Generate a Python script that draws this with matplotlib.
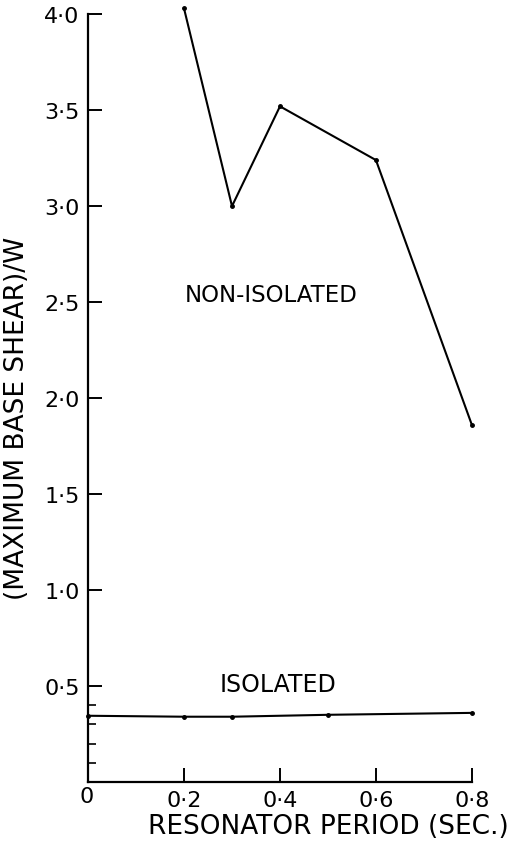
import numpy as np
import matplotlib.pyplot as plt

period_non = [0.2, 0.3, 0.4, 0.6, 0.8]
shear_non = [4.03, 3.0, 3.52, 3.24, 1.86]

period_iso = [0.0, 0.2, 0.3, 0.5, 0.8]
shear_iso = [0.345, 0.34, 0.34, 0.35, 0.36]

xticks = [0.2, 0.4, 0.6, 0.8]
xticklabels = ['0·2', '0·4', '0·6', '0·8']
yticks = [0.5, 1.0, 1.5, 2.0, 2.5, 3.0, 3.5, 4.0]
yticklabels = ['0·5', '1·0', '1·5', '2·0', '2·5', '3·0', '3·5', '4·0']
yminor = [0.1, 0.2, 0.3, 0.4]

plt.rcParams['font.family'] = 'DejaVu Sans'

fig = plt.figure(figsize=(5.18, 8.45), dpi=100)
ax = fig.add_axes([0.170, 0.0734, 0.741, 0.9086])

ax.plot(period_non, shear_non, color='black', lw=1.5, marker='o', ms=2.5, clip_on=False)
ax.plot(period_iso, shear_iso, color='black', lw=1.5, marker='o', ms=2.5, clip_on=False)

ax.set_xlim(0, 0.8)
ax.set_ylim(0, 4.0)
for s in ['top', 'right']:
    ax.spines[s].set_visible(False)
for s in ['left', 'bottom']:
    ax.spines[s].set_linewidth(1.6)

ax.set_xticks(xticks)
ax.set_xticklabels(xticklabels)
ax.set_yticks(yticks)
ax.set_yticklabels(yticklabels)
ax.set_yticks(yminor, minor=True)
ax.tick_params(axis='both', which='major', direction='in', length=10, width=1.4,
               labelsize=16, pad=6)
ax.tick_params(axis='y', which='minor', direction='in', length=6, width=1.2)

ax.text(-0.003, -0.02, '0', ha='center', va='top', fontsize=16)

ax.text(0.381, 2.54, 'NON-ISOLATED', ha='center', va='center', fontsize=16.5)
ax.text(0.396, 0.51, 'ISOLATED', ha='center', va='center', fontsize=17)

ax.set_xlabel('RESONATOR PERIOD (SEC.)', fontsize=19, labelpad=2, x=0.625)
ax.set_ylabel('(MAXIMUM BASE SHEAR)/W', fontsize=19)
ax.yaxis.set_label_coords(-0.15, 0.475)

fig.savefig('out.png', dpi=100)
